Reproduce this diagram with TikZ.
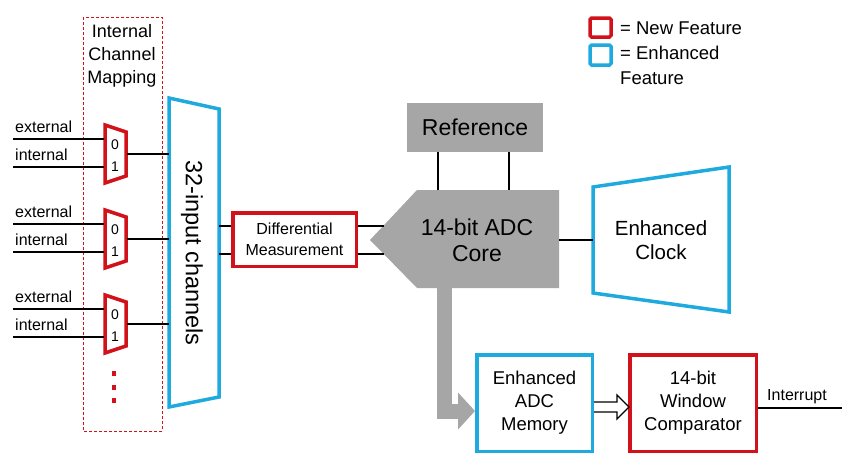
\documentclass[tikz,border=0pt]{standalone}
\usepackage{fontspec}
\setmainfont{Liberation Sans}
\usetikzlibrary{arrows.meta,calc}
\definecolor{newred}{RGB}{210,18,26}
\definecolor{enhblue}{RGB}{30,170,222}
\definecolor{coregray}{RGB}{166,166,166}
\newcommand\fsz[2]{\fontsize{#1}{#2}\selectfont}
\tikzset{
  newc/.style={draw=newred,line width=3.5pt,line join=miter},
  enhc/.style={draw=enhblue,line width=3.5pt,line join=miter},
  wire/.style={draw=black,line width=1.8pt},
  lbl/.style={inner sep=0pt,text=black},
  boxnode/.style={inner sep=0pt,align=center,fill=white},
}
\begin{document}
\begin{tikzpicture}[x=1pt,y=-1pt]
\path[use as bounding box,fill=white] (0,0) rectangle (846,466);

% internal channel mapping frame
\draw[draw=newred,line width=0.9pt,dash pattern=on 3pt off 2pt] (83,17) rectangle (162,431);
\node[lbl,align=center,font=\fsz{18}{23}] (icm) at (122,56) {Internal\\Channel\\Mapping};

% 32-input channels
\draw[enhc] (169,98) -- (219,109) -- (219,397) -- (169,407) -- cycle;
\node[lbl,rotate=-90,font=\fsz{23.5}{28}] (ch32) at (192,253) {32-input channels};

% muxes
\foreach \i/\t in {1/125,2/210,3/295}{
  \draw[newc,fill=white] (105,\t) -- (126,\t+7) -- (126,\t+51) -- (105,\t+58) -- cycle;
  \coordinate (m\i in0) at (104,\t+14);
  \coordinate (m\i in1) at (104,\t+42);
  \coordinate (m\i out) at (127,\t+29);
  \coordinate (c\i in) at (169,\t+29);
  \coordinate (e\i) at (13,\t+14);
  \coordinate (n\i) at (13,\t+42);
  \node[lbl,font=\fsz{14}{16}] (d0\i) at (115,\t+20) {0};
  \node[lbl,font=\fsz{14}{16}] (d1\i) at (115,\t+42) {1};
  \node[lbl,anchor=west,font=\fsz{16}{18}] (le\i) at (15,\t+2) {external};
  \node[lbl,anchor=west,font=\fsz{16}{18}] (li\i) at (15,\t+30) {internal};
  \draw[wire] (e\i) -- (m\i in0);
  \draw[wire] (n\i) -- (m\i in1);
  \draw[wire] (m\i out) -- (c\i in);
}
% dots
\foreach \yy in {373,387,400}{
  \fill[newred] (112,\yy-2.5) rectangle (116,\yy+2.5);
}

% differential measurement
\node[boxnode,newc,minimum width=123.5pt,minimum height=53.5pt,font=\fsz{16}{21}] (diff) at (294.5,239.5) {Differential\\Measurement};
\coordinate (c32a) at (219,226);
\coordinate (c32b) at (219,254);
\draw[wire] (c32a) -- (c32a -| diff.west);
\draw[wire] (c32b) -- (c32b -| diff.west);

% ADC core
\fill[coregray] (370,240) -- (417,190) -- (559,190) -- (559,288) -- (417,288) -- cycle;
\node[lbl,align=center,font=\fsz{23}{26}] (core) at (477,240) {14-bit ADC\\Core};
\coordinate (corea) at (384,226);
\coordinate (coreb) at (384,254);
\draw[wire] (diff.east |- corea) -- (corea);
\draw[wire] (diff.east |- coreb) -- (coreb);
\coordinate (coretop1) at (438,190);
\coordinate (coretop2) at (509,190);
\coordinate (coreright) at (559,240);
\coordinate (corebottom) at (444.5,288);

% reference
\node[boxnode,fill=coregray,minimum width=136pt,minimum height=49pt,font=\fsz{23}{26}] (ref) at (475,127.5) {Reference};
\draw[wire] (coretop1 |- ref.south) -- (coretop1);
\draw[wire] (coretop2 |- ref.south) -- (coretop2);

% enhanced clock
\draw[enhc] (593,187) -- (729,167) -- (729,312) -- (593,293) -- cycle;
\coordinate (clockin) at (593,240);
\node[lbl,align=center,font=\fsz{20.5}{24}] (clock) at (661,240) {Enhanced\\Clock};
\draw[wire] (coreright) -- (clockin);

% memory and comparator
\node[boxnode,enhc,minimum width=115.5pt,minimum height=96.5pt,font=\fsz{18.5}{23}] (mem) at (534.5,403) {Enhanced\\ADC\\Memory};
\node[boxnode,newc,minimum width=126.5pt,minimum height=96.5pt,font=\fsz{18.5}{23}] (comp) at (693,403) {14-bit\\Window\\Comparator};

% thick gray arrow
\draw[draw=coregray,line width=15pt,line join=miter,-{Triangle[length=17pt,width=36pt]}]
  (corebottom) |- ([yshift=-8pt]mem.west);

% hollow arrow
\coordinate (h0) at ($(mem.east)+(0,4)$);
\draw[black,line width=1.3pt,line join=miter,fill=white]
  (h0) ++(0,-5) -- ++(23,0) -- ++(0,-7) -- ++(12,12) -- ++(-12,12) -- ++(0,-7) -- ++(-23,0);

% interrupt
\coordinate (irq) at (842,408);
\draw[wire] (comp.east |- irq) -- (irq);
\node[lbl,font=\fsz{16}{18}] (irqlbl) at (797,397) {Interrupt};

% legend
\draw[draw=newred,line width=3.5pt,rounded corners=1.5pt] (590,18) rectangle (611,37);
\draw[draw=enhblue,line width=3.5pt,rounded corners=1.5pt] (590,45) rectangle (611,65);
\node[lbl,anchor=west,font=\fsz{18.5}{25}] (leg1) at (620,28) {= New Feature};
\node[lbl,anchor=north west,align=left,font=\fsz{18.5}{25}] (leg2) at (620,46) {= Enhanced\\Feature};
\end{tikzpicture}
\end{document}
